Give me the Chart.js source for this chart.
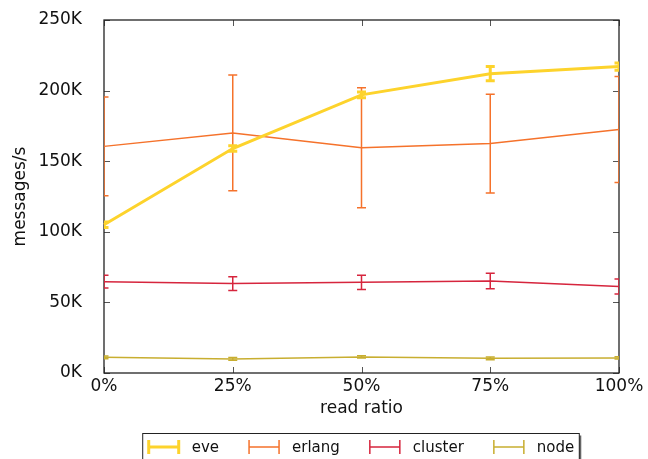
<!DOCTYPE html>
<html>
<head>
<meta charset="utf-8">
<script src="https://cdn.jsdelivr.net/npm/chart.js@4/dist/chart.umd.min.js"></script>
<style>
  html, body { margin: 0; padding: 0; background: #fff; }
  #wrap { width: 648px; height: 459px; position: relative; }
</style>
</head>
<body>
<div id="wrap"><canvas id="chart"></canvas></div>
<script>
const FONT = "'DejaVu Sans', sans-serif";

const readRatios = ["0%", "25%", "50%", "75%", "100%"];
const seriesNames = ["eve", "erlang", "cluster", "node"];
const seriesColors = ["#fdd32c", "#f5722b", "#d6253d", "#c8ae30"];
const seriesWidths = [3, 1.5, 1.5, 1.5];

const eveValues = [105000, 159000, 197000, 212000, 217000];
const eveErrors = [2000, 2000, 2000, 5000, 2500];
const erlangValues = [160500, 170000, 159500, 162500, 172500];
const erlangErrors = [35000, 41000, 42500, 35000, 37500];
const clusterValues = [64700, 63300, 64200, 65200, 61200];
const clusterErrors = [4500, 4800, 5000, 5500, 5300];
const nodeValues = [11100, 10000, 11400, 10400, 10700];
const nodeErrors = [1000, 1000, 800, 1000, 800];

const yTicks = [0, 50000, 100000, 150000, 200000, 250000];

const allValues = [eveValues, erlangValues, clusterValues, nodeValues];
const allErrors = [eveErrors, erlangErrors, clusterErrors, nodeErrors];

// gnuplot-like frame with inner ticks mirrored on all sides
const framePlugin = {
  id: "frame",
  beforeDatasetsDraw(chart) {
    const { ctx, chartArea: a, scales } = chart;
    const tick = 6;
    ctx.save();
    ctx.strokeStyle = "#555";
    ctx.lineWidth = 1;
    ctx.beginPath();
    scales.y.ticks.forEach((t) => {
      const y = Math.round(scales.y.getPixelForValue(t.value)) + 0.5;
      ctx.moveTo(a.left, y);
      ctx.lineTo(a.left + tick, y);
      ctx.moveTo(a.right, y);
      ctx.lineTo(a.right - tick, y);
    });
    readRatios.forEach((_, i) => {
      const x = Math.round(scales.x.getPixelForValue(i)) + 0.5;
      ctx.moveTo(x, a.bottom);
      ctx.lineTo(x, a.bottom - tick);
      ctx.moveTo(x, a.top);
      ctx.lineTo(x, a.top + tick);
    });
    ctx.stroke();
    ctx.strokeStyle = "#222";
    ctx.lineWidth = 1.3;
    ctx.strokeRect(a.left, a.top, a.right - a.left, a.bottom - a.top);
    ctx.restore();
  },
};

const errorBarPlugin = {
  id: "errorBars",
  afterDatasetsDraw(chart) {
    const { ctx, chartArea: a, scales } = chart;
    ctx.save();
    ctx.beginPath();
    ctx.rect(a.left, a.top, a.right - a.left, a.bottom - a.top);
    ctx.clip();
    for (let d = chart.data.datasets.length - 1; d >= 0; d--) {
      const ds = chart.data.datasets[d];
      const errs = allErrors[d];
      ctx.strokeStyle = ds.borderColor;
      ctx.lineWidth = ds.borderWidth;
      ctx.beginPath();
      ds.data.forEach((v, i) => {
        const x = scales.x.getPixelForValue(i);
        const y1 = scales.y.getPixelForValue(v + errs[i]);
        const y2 = scales.y.getPixelForValue(v - errs[i]);
        ctx.moveTo(x, y1);
        ctx.lineTo(x, y2);
        ctx.moveTo(x - 4.5, y1);
        ctx.lineTo(x + 4.5, y1);
        ctx.moveTo(x - 4.5, y2);
        ctx.lineTo(x + 4.5, y2);
      });
      ctx.stroke();
    }
    ctx.restore();
  },
};

const boxLegendPlugin = {
  id: "boxLegend",
  afterDraw(chart) {
    const { ctx, chartArea: a } = chart;
    const symW = 30, gapText = 13, gapItem = 30;
    ctx.save();
    ctx.font = "15px " + FONT;
    const widths = chart.data.datasets.map((ds) => ctx.measureText(ds.label).width);
    const total =
      widths.reduce((s, w) => s + symW + gapText + w, 0) + gapItem * (widths.length - 1);
    let x = (a.left + a.right) / 2 - total / 2;
    const boxL = x - 6, boxR = x + total + 5, boxT = 433.5, boxB = 470;
    ctx.fillStyle = "#666";
    ctx.fillRect(boxL + 2, boxT + 2, boxR - boxL, boxB - boxT);
    ctx.fillStyle = "#fff";
    ctx.fillRect(boxL, boxT, boxR - boxL, boxB - boxT);
    ctx.strokeStyle = "#222";
    ctx.lineWidth = 1;
    ctx.strokeRect(boxL, boxT, boxR - boxL, boxB - boxT);
    const cy = 447;
    chart.data.datasets.forEach((ds, i) => {
      ctx.strokeStyle = ds.borderColor;
      ctx.lineWidth = ds.borderWidth;
      ctx.beginPath();
      ctx.moveTo(x, cy);
      ctx.lineTo(x + symW, cy);
      ctx.moveTo(x, cy - 7);
      ctx.lineTo(x, cy + 7);
      ctx.moveTo(x + symW, cy - 7);
      ctx.lineTo(x + symW, cy + 7);
      ctx.stroke();
      ctx.fillStyle = "#111";
      ctx.textBaseline = "middle";
      ctx.textAlign = "left";
      ctx.fillText(ds.label, x + symW + gapText, cy + 1);
      x += symW + gapText + widths[i] + gapItem;
    });
    ctx.restore();
  },
};

const datasets = seriesNames.map((name, i) => ({
  label: name,
  data: allValues[i],
  borderColor: seriesColors[i],
  backgroundColor: seriesColors[i],
  borderWidth: seriesWidths[i],
  pointRadius: 0,
  tension: 0,
  fill: false,
}));

new Chart(document.getElementById("chart"), {
  type: "line",
  data: { labels: readRatios, datasets },
  plugins: [framePlugin, errorBarPlugin, boxLegendPlugin],
  options: {
    responsive: true,
    maintainAspectRatio: false,
    animation: false,
    layout: { padding: { top: 20, right: 29, bottom: 40, left: 0 } },
    plugins: { legend: { display: false }, tooltip: { enabled: false } },
    scales: {
      x: {
        offset: false,
        grid: { display: false, drawTicks: false },
        border: { display: false },
        ticks: { color: "#111", font: { family: FONT, size: 17 }, padding: 3, maxRotation: 0 },
        title: {
          display: true,
          text: "read ratio",
          color: "#111",
          font: { family: FONT, size: 17 },
          padding: { top: 0, bottom: 0 },
        },
        afterFit: (scale) => { scale.height = 46; },
      },
      y: {
        min: 0,
        max: 250000,
        afterBuildTicks: (scale) => { scale.ticks = yTicks.map((v) => ({ value: v })); },
        // tick marks are not drawn; tickLength only pushes the labels off the frame
        grid: { display: false, drawTicks: true, tickLength: 22 },
        border: { display: false },
        ticks: {
          color: "#111",
          font: { family: FONT, size: 17 },
          padding: 0,
          callback: (v) => v / 1000 + "K",
        },
        title: {
          display: true,
          text: "messages/s",
          color: "#111",
          font: { family: FONT, size: 17 },
          padding: { top: 10, bottom: 0 },
        },
        afterFit: (scale) => { scale.width = 104; },
      },
    },
  },
});
</script>
</body>
</html>
